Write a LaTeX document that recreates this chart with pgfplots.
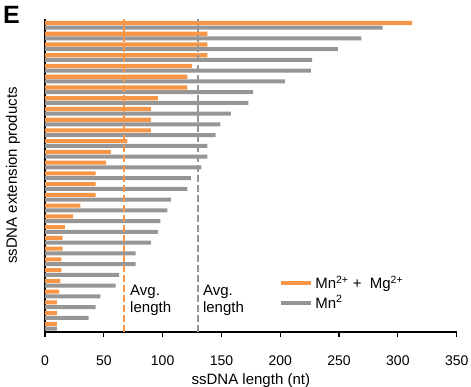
\documentclass[border=0pt]{standalone}
\usepackage{fontspec}
\setmainfont{Liberation Sans}
\usepackage{pgfplots}
\pgfplotsset{compat=1.18}
\definecolor{orgC}{HTML}{F79646}
\definecolor{gryC}{HTML}{969696}
\begin{document}
\begin{tikzpicture}
\useasboundingbox (-45pt,-55pt) rectangle (426pt,332pt);
\begin{axis}[
 at={(0pt,0pt)}, anchor=south west,
 scale only axis, width=411.7pt, height=313pt,
 xmin=0, xmax=350, ymin=-0.53, ymax=28.59,
 axis x line*=bottom, axis y line*=left,
 axis line style={line width=1.8pt, -},
 ytick=\empty,
 xtick={0,50,...,350},
 tick align=outside,
 major tick length=5pt,
 x tick style={black, line width=1.2pt},
 /pgf/number format/assume math mode=true,
 tick label style={font=\fontsize{14}{16}\selectfont},
 xticklabel style={yshift=-15pt},
 xlabel={ssDNA length (nt)},
 xlabel style={at={(axis description cs:0.5,0)}, anchor=base, yshift=-52.5pt, font=\fontsize{15}{18}\selectfont},
 ylabel={ssDNA extension products},
 ylabel style={at={(axis description cs:-0.0777,0.5)}, anchor=center, font=\fontsize{15}{18}\selectfont},
 clip=false,
 legend style={draw=none, fill=none, at={(axis cs:199,4.85)}, anchor=north west, inner sep=0pt, font=\fontsize{15}{18}\selectfont, row sep=1.2pt, cells={anchor=west}},
]
\addplot[xbar, bar width=0.38, bar shift=0.22, fill=orgC, draw=none,
 legend image code/.code={\draw[line width=4pt, orgC] (0pt,0pt) -- (30pt,0pt);}]
 coordinates {(312,28) (138,27) (138,26) (138,25) (125,24) (121,23) (121,22) (96,21) (90,20) (90,19) (90,18) (70,17) (56,16) (52,15) (43,14) (43,13) (43,12) (30,11) (24,10) (17,9) (15,8) (15,7) (14,6) (14,5) (13,4) (12,3) (10,2) (10,1) (10,0)};
\addlegendentry{Mn\textsuperscript{2+} +\ \ Mg\textsuperscript{2+}}
\addplot[xbar, bar width=0.38, bar shift=-0.22, fill=gryC, draw=none,
 legend image code/.code={\draw[line width=4pt, gryC] (0pt,0pt) -- (30pt,0pt);}]
 coordinates {(287,28) (269,27) (249,26) (227,25) (226,24) (204,23) (177,22) (173,21) (158,20) (149,19) (145,18) (138,17) (138,16) (133,15) (124,14) (121,13) (107,12) (104,11) (98,10) (96,9) (90,8) (77,7) (77,6) (63,5) (60,4) (47,3) (43,2) (37,1) (10,0)};
\addlegendentry{Mn\textsuperscript{2}}
\addplot[forget plot, orgC, line width=1.6pt, dash pattern=on 7pt off 3pt] coordinates {(67.2,-0.53) (67.2,28.59)};
\addplot[forget plot, gryC, line width=1.6pt, dash pattern=on 7pt off 3pt] coordinates {(130,-0.53) (130,28.59)};
\node[anchor=base west, inner sep=0pt, font=\fontsize{15}{18}\selectfont] at (axis cs:72.3,2.91) {Avg.};
\node[anchor=base west, inner sep=0pt, font=\fontsize{15}{18}\selectfont] at (axis cs:72.3,1.33) {length};
\node[anchor=base west, inner sep=0pt, font=\fontsize{15}{18}\selectfont] at (axis cs:134.2,2.91) {Avg.};
\node[anchor=base west, inner sep=0pt, font=\fontsize{15}{18}\selectfont] at (axis cs:134.2,1.33) {length};
\end{axis}
\node[anchor=base west, inner sep=0pt, font=\bfseries\fontsize{25}{25}\selectfont] at (-42pt,308pt) {E};
\end{tikzpicture}
\end{document}
